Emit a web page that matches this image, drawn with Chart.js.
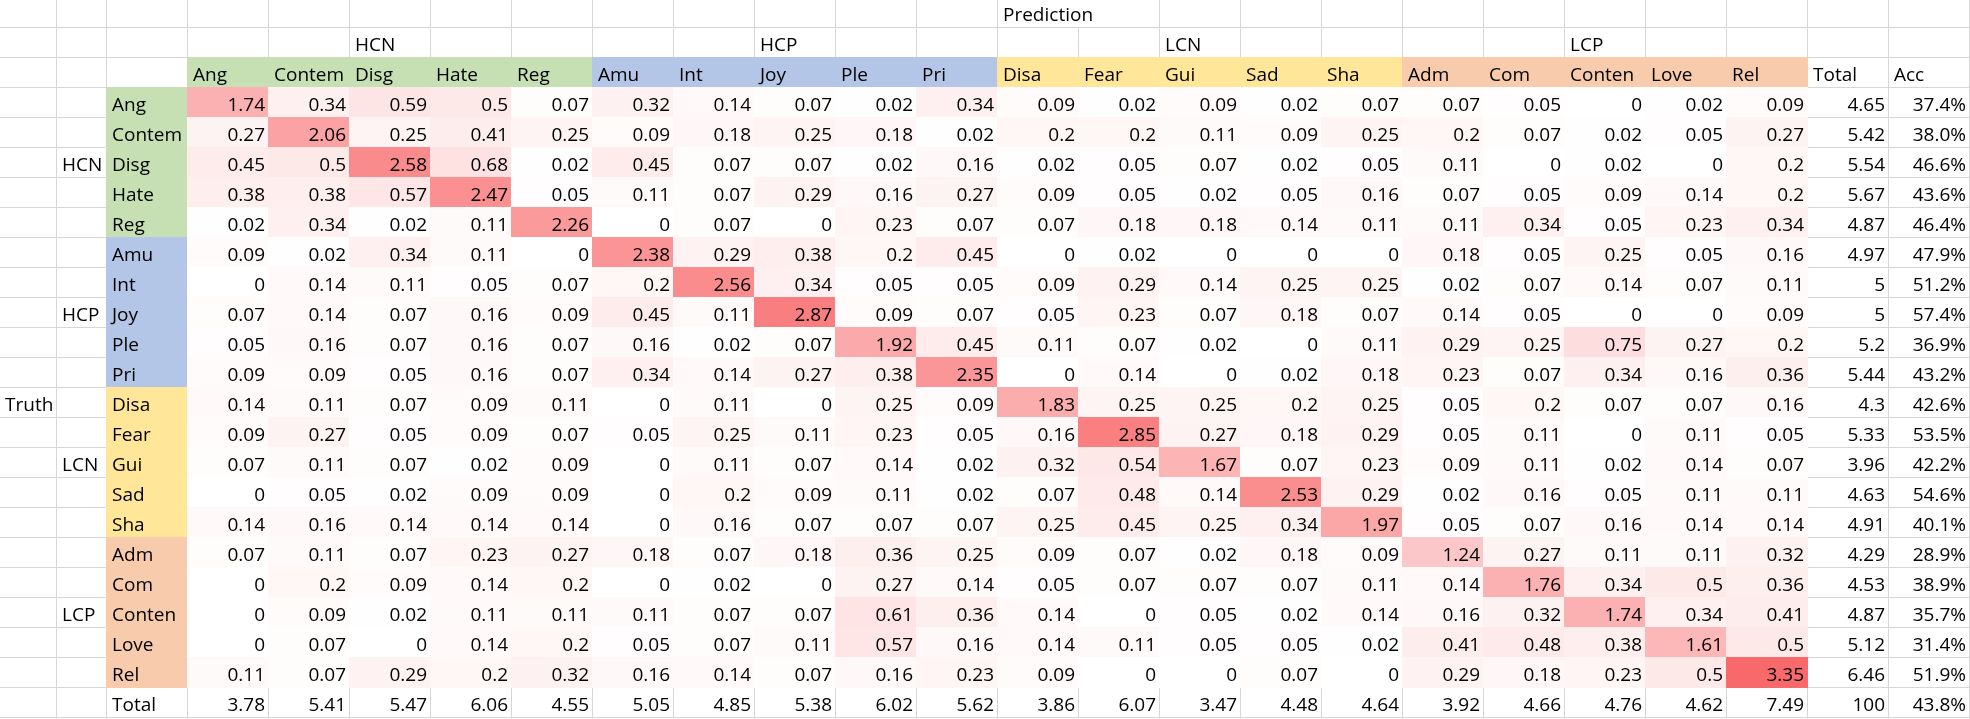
<!DOCTYPE html>
<html>
<head>
<meta charset="utf-8">
<script src="https://cdn.jsdelivr.net/npm/chart.js@4.4.0/dist/chart.umd.min.js"></script>
<style>
  html, body { margin: 0; padding: 0; background: #fff; overflow: hidden; }
  canvas { display: block; }
</style>
</head>
<body>
<canvas id="myChart" width="1970" height="719"></canvas>
<script>
// Emotion classes, in the same order for truth rows and prediction columns
const cats = ["Ang", "Contem", "Disg", "Hate", "Reg", "Amu", "Int", "Joy", "Ple", "Pri",
  "Disa", "Fear", "Gui", "Sad", "Sha", "Adm", "Com", "Conten", "Love", "Rel"];
const groupNames = ["HCN", "HCP", "LCN", "LCP"];

// One array per truth row (values in %)
const ang = [1.74, 0.34, 0.59, 0.5, 0.07, 0.32, 0.14, 0.07, 0.02, 0.34, 0.09, 0.02, 0.09, 0.02, 0.07, 0.07, 0.05, 0, 0.02, 0.09];
const contem = [0.27, 2.06, 0.25, 0.41, 0.25, 0.09, 0.18, 0.25, 0.18, 0.02, 0.2, 0.2, 0.11, 0.09, 0.25, 0.2, 0.07, 0.02, 0.05, 0.27];
const disg = [0.45, 0.5, 2.58, 0.68, 0.02, 0.45, 0.07, 0.07, 0.02, 0.16, 0.02, 0.05, 0.07, 0.02, 0.05, 0.11, 0, 0.02, 0, 0.2];
const hate = [0.38, 0.38, 0.57, 2.47, 0.05, 0.11, 0.07, 0.29, 0.16, 0.27, 0.09, 0.05, 0.02, 0.05, 0.16, 0.07, 0.05, 0.09, 0.14, 0.2];
const reg = [0.02, 0.34, 0.02, 0.11, 2.26, 0, 0.07, 0, 0.23, 0.07, 0.07, 0.18, 0.18, 0.14, 0.11, 0.11, 0.34, 0.05, 0.23, 0.34];
const amu = [0.09, 0.02, 0.34, 0.11, 0, 2.38, 0.29, 0.38, 0.2, 0.45, 0, 0.02, 0, 0, 0, 0.18, 0.05, 0.25, 0.05, 0.16];
const inte = [0, 0.14, 0.11, 0.05, 0.07, 0.2, 2.56, 0.34, 0.05, 0.05, 0.09, 0.29, 0.14, 0.25, 0.25, 0.02, 0.07, 0.14, 0.07, 0.11];
const joy = [0.07, 0.14, 0.07, 0.16, 0.09, 0.45, 0.11, 2.87, 0.09, 0.07, 0.05, 0.23, 0.07, 0.18, 0.07, 0.14, 0.05, 0, 0, 0.09];
const ple = [0.05, 0.16, 0.07, 0.16, 0.07, 0.16, 0.02, 0.07, 1.92, 0.45, 0.11, 0.07, 0.02, 0, 0.11, 0.29, 0.25, 0.75, 0.27, 0.2];
const pri = [0.09, 0.09, 0.05, 0.16, 0.07, 0.34, 0.14, 0.27, 0.38, 2.35, 0, 0.14, 0, 0.02, 0.18, 0.23, 0.07, 0.34, 0.16, 0.36];
const disa = [0.14, 0.11, 0.07, 0.09, 0.11, 0, 0.11, 0, 0.25, 0.09, 1.83, 0.25, 0.25, 0.2, 0.25, 0.05, 0.2, 0.07, 0.07, 0.16];
const fear = [0.09, 0.27, 0.05, 0.09, 0.07, 0.05, 0.25, 0.11, 0.23, 0.05, 0.16, 2.85, 0.27, 0.18, 0.29, 0.05, 0.11, 0, 0.11, 0.05];
const gui = [0.07, 0.11, 0.07, 0.02, 0.09, 0, 0.11, 0.07, 0.14, 0.02, 0.32, 0.54, 1.67, 0.07, 0.23, 0.09, 0.11, 0.02, 0.14, 0.07];
const sad = [0, 0.05, 0.02, 0.09, 0.09, 0, 0.2, 0.09, 0.11, 0.02, 0.07, 0.48, 0.14, 2.53, 0.29, 0.02, 0.16, 0.05, 0.11, 0.11];
const sha = [0.14, 0.16, 0.14, 0.14, 0.14, 0, 0.16, 0.07, 0.07, 0.07, 0.25, 0.45, 0.25, 0.34, 1.97, 0.05, 0.07, 0.16, 0.14, 0.14];
const adm = [0.07, 0.11, 0.07, 0.23, 0.27, 0.18, 0.07, 0.18, 0.36, 0.25, 0.09, 0.07, 0.02, 0.18, 0.09, 1.24, 0.27, 0.11, 0.11, 0.32];
const com = [0, 0.2, 0.09, 0.14, 0.2, 0, 0.02, 0, 0.27, 0.14, 0.05, 0.07, 0.07, 0.07, 0.11, 0.14, 1.76, 0.34, 0.5, 0.36];
const conten = [0, 0.09, 0.02, 0.11, 0.11, 0.11, 0.07, 0.07, 0.61, 0.36, 0.14, 0, 0.05, 0.02, 0.14, 0.16, 0.32, 1.74, 0.34, 0.41];
const love = [0, 0.07, 0, 0.14, 0.2, 0.05, 0.07, 0.11, 0.57, 0.16, 0.14, 0.11, 0.05, 0.05, 0.02, 0.41, 0.48, 0.38, 1.61, 0.5];
const rel = [0.11, 0.07, 0.29, 0.2, 0.32, 0.16, 0.14, 0.07, 0.16, 0.23, 0.09, 0, 0, 0.07, 0, 0.29, 0.18, 0.23, 0.5, 3.35];

const rowTotals = [4.65, 5.42, 5.54, 5.67, 4.87, 4.97, 5, 5, 5.2, 5.44, 4.3, 5.33, 3.96, 4.63, 4.91, 4.29, 4.53, 4.87, 5.12, 6.46];
const rowAcc = [37.4, 38.0, 46.6, 43.6, 46.4, 47.9, 51.2, 57.4, 36.9, 43.2, 42.6, 53.5, 42.2, 54.6, 40.1, 28.9, 38.9, 35.7, 31.4, 51.9];
const colTotals = [3.78, 5.41, 5.47, 6.06, 4.55, 5.05, 4.85, 5.38, 6.02, 5.62, 3.86, 6.07, 3.47, 4.48, 4.64, 3.92, 4.66, 4.76, 4.62, 7.49];
const grandTotal = 100;
const overallAcc = 43.8;

const matrix = [ang, contem, disg, hate, reg, amu, inte, joy, ple, pri, disa, fear, gui, sad, sha, adm, com, conten, love, rel];

// sheet look
const groupColors = ["#c6e0b4", "#b4c6e7", "#ffe699", "#f8cbad"];
const gridColor = "#d6d6d6";
const font = '19px "Open Sans", sans-serif';
// left columns measured in data-column units
const truthW = 57 / 81, groupW = 50 / 81;
const xLeft = -1 - groupW - truthW;

// cell points for the heat map: x = column, y = row
var cells = [];
for (let r = 0; r < matrix.length; r++) {
  for (let c = 0; c < matrix[r].length; c++) {
    cells.push({ x: c + 0.5, y: r + 0.5, v: matrix[r][c] });
  }
}
var maxVal = Math.max(...cells.map((p) => p.v));

function heatColor(v) {
  var t = v / maxVal;
  var r = Math.round(255 + (248 - 255) * t);
  var g = Math.round(255 + (105 - 255) * t);
  var b = Math.round(255 + (107 - 255) * t);
  return `rgb(${r},${g},${b})`;
}

const sheetPlugin = {
  id: "sheet",
  beforeDatasetsDraw(chart) {
    const ctx = chart.ctx;
    const xs = chart.scales.x;
    const ys = chart.scales.y;
    const px = (v) => xs.getPixelForValue(v);
    const py = (v) => ys.getPixelForValue(v);

    // column edges, left to right
    var colEdges = [xLeft, -1 - groupW, -1];
    for (let c = 0; c <= 22; c++) colEdges.push(c);
    var rowEdges = [];
    for (let r = -3; r <= 21; r++) rowEdges.push(r);

    ctx.save();
    ctx.fillStyle = "#fff";
    ctx.fillRect(0, 0, chart.width, chart.height);

    // gridlines (the "Prediction" label runs over into the next cell)
    ctx.strokeStyle = gridColor;
    ctx.lineWidth = 1;
    ctx.beginPath();
    for (let i = 0; i < colEdges.length; i++) {
      const x = Math.round(px(colEdges[i])) - 0.5;
      for (let r = -3; r < 21; r++) {
        if (r == -3 && colEdges[i] == 11) continue;
        ctx.moveTo(x, py(r));
        ctx.lineTo(x, py(r + 1));
      }
    }
    for (let j = 0; j < rowEdges.length; j++) {
      const y = Math.round(py(rowEdges[j])) - 0.5;
      ctx.moveTo(px(xLeft), y);
      ctx.lineTo(px(22), y);
    }
    ctx.stroke();

    function fillCell(x0, x1, y0, y1, color) {
      const a = Math.round(px(x0)) - 1, b = Math.round(px(x1));
      const c = Math.round(py(y0)) - 1, d = Math.round(py(y1));
      ctx.fillStyle = color;
      ctx.fillRect(a, c, b - a, d - c);
    }

    // group colours on the header row and the row-label column
    for (let i = 0; i < cats.length; i++) {
      const g = Math.floor(i / 5);
      fillCell(i, i + 1, -1, 0, groupColors[g]);
      fillCell(-1, 0, i, i + 1, groupColors[g]);
    }

    // heat map cells from the dataset
    const pts = chart.data.datasets[0].data;
    pts.forEach((p) => {
      fillCell(p.x - 0.5, p.x + 0.5, p.y - 0.5, p.y + 0.5, heatColor(p.v));
    });

    // text
    ctx.font = font;
    ctx.fillStyle = "#000";
    ctx.textBaseline = "alphabetic";
    function leftText(str, x0, row) {
      ctx.textAlign = "left";
      ctx.fillText(str, px(x0) + 5, py(row + 1) - 7);
    }
    function rightText(str, x1, row) {
      ctx.textAlign = "right";
      ctx.fillText(str, px(x1) - 4, py(row + 1) - 7);
    }

    leftText("Prediction", 10, -3);
    for (let g = 0; g < groupNames.length; g++) {
      leftText(groupNames[g], g * 5 + 2, -2);
      leftText(groupNames[g], -1 - groupW, g * 5 + 2);
    }
    leftText("Truth", xLeft, 10);
    for (let i = 0; i < cats.length; i++) {
      leftText(cats[i], i, -1);
      leftText(cats[i], -1, i);
    }
    leftText("Total", 20, -1);
    leftText("Acc", 21, -1);
    leftText("Total", -1, 20);

    pts.forEach((p) => rightText(String(p.v), p.x + 0.5, p.y - 0.5));
    for (let r = 0; r < rowTotals.length; r++) {
      rightText(String(rowTotals[r]), 21, r);
      rightText(rowAcc[r].toFixed(1) + "%", 22, r);
    }
    for (let c = 0; c < colTotals.length; c++) {
      rightText(String(colTotals[c]), c + 1, 20);
    }
    rightText(String(grandTotal), 21, 20);
    rightText(overallAcc.toFixed(1) + "%", 22, 20);
    ctx.restore();
  },
};

function drawSheet() {
  const ctx = document.getElementById("myChart");
  new Chart(ctx, {
    type: "scatter",
    data: {
      datasets: [
        {
          label: "Confusion",
          data: cells,
          pointRadius: 0,
          pointHoverRadius: 0,
        },
      ],
    },
    options: {
      responsive: false,
      animation: false,
      devicePixelRatio: 1,
      layout: { padding: 0 },
      plugins: { legend: { display: false }, tooltip: { enabled: false } },
      scales: {
        x: { type: "linear", min: xLeft, max: 22, display: false },
        y: { type: "linear", min: 21.02 - 719 / 30, max: 21.02, reverse: true, display: false },
      },
    },
    plugins: [sheetPlugin],
  });
}

window.onload = function () {
  drawSheet();
};
</script>
</body>
</html>
